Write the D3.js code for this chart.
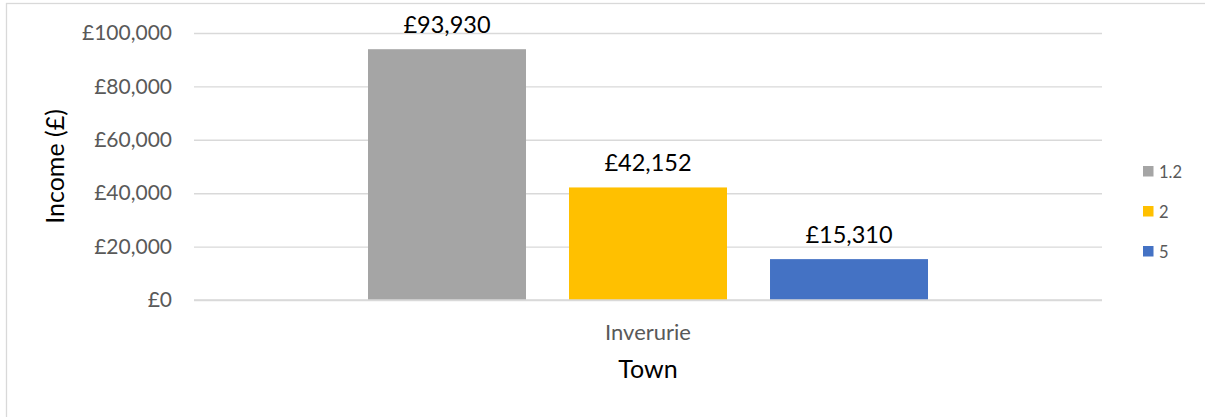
<!DOCTYPE html>
<html>
<head>
<meta charset="utf-8">
<script src="https://cdn.jsdelivr.net/npm/d3@7"></script>
<style>
  body { margin: 0; background: #fff; }
  text { font-family: Lato, "Open Sans", sans-serif; }
</style>
</head>
<body>
<svg id="display"></svg>
<script>
// data
let towns = ['Inverurie']
let seriesNames = ['1.2', '2', '5']
let incomes = [93930, 42152, 15310]
let yTicks = [0, 20000, 40000, 60000, 80000, 100000]
let colours = ['#A5A5A5', '#FFC000', '#4472C4']

let width = 1205
let height = 417
let plotLeft = 194
let plotRight = 1102
let plotTop = 33
let plotBottom = 300

let svg = d3.select('#display')
  .attr('width', width)
  .attr('height', height)

// outer frame (cropped at right/bottom)
svg.append('rect')
  .attr('x', 6.5)
  .attr('y', 3.5)
  .attr('width', width + 10)
  .attr('height', height + 10)
  .attr('fill', 'none')
  .attr('stroke', '#d9d9d9')
  .attr('stroke-width', 1.3)

let money = d => '£' + d3.format(',')(d)

let yScale = d3.scaleLinear()
  .domain([0, 100000])
  .range([plotBottom, plotTop])

let x0 = d3.scaleBand()
  .domain(towns)
  .range([plotLeft, plotRight])
  .paddingInner(0)
  .paddingOuter(0.3107)

let x1 = d3.scaleBand()
  .domain(seriesNames)
  .range([0, x0.bandwidth()])
  .paddingInner(0.214)
  .paddingOuter(0)

let colour = d3.scaleOrdinal()
  .domain(seriesNames)
  .range(colours)

// y axis with gridlines
let yAxis = d3.axisLeft(yScale)
  .tickValues(yTicks)
  .tickFormat(money)
  .tickSize(-(plotRight - plotLeft))
  .tickPadding(22)

let yg = svg.append('g')
  .attr('transform', 'translate(' + plotLeft + ',0)')
  .call(yAxis)
yg.select('.domain').remove()
yg.selectAll('line')
  .attr('stroke', '#d9d9d9')
  .attr('stroke-width', 1.4)
yg.selectAll('text')
  .attr('fill', '#595959')
  .style('font-size', '21px')
  .style('font-family', 'Lato, sans-serif')

// bars
let rows = seriesNames.map((s, i) => ({ town: towns[0], series: s, value: incomes[i] }))

svg.selectAll('rect.bar')
  .data(rows)
  .enter()
  .append('rect')
  .attr('class', 'bar')
  .attr('x', d => x0(d.town) + x1(d.series))
  .attr('y', d => yScale(d.value))
  .attr('width', x1.bandwidth())
  .attr('height', d => yScale(0) - yScale(d.value))
  .attr('fill', d => colour(d.series))

// axis line on top of bars
svg.append('line')
  .attr('x1', plotLeft)
  .attr('x2', plotRight)
  .attr('y1', yScale(0))
  .attr('y2', yScale(0))
  .attr('stroke', '#d9d9d9')
  .attr('stroke-width', 1.6)

// data labels
svg.selectAll('text.lbl')
  .data(rows)
  .enter()
  .append('text')
  .attr('class', 'lbl')
  .attr('x', d => x0(d.town) + x1(d.series) + x1.bandwidth() / 2)
  .attr('y', d => yScale(d.value) - 16.5)
  .attr('text-anchor', 'middle')
  .attr('fill', '#000')
  .style('font-size', '23.5px')
  .text(d => money(d.value))

// x axis
let xAxis = d3.axisBottom(x0).tickSize(0).tickPadding(24)
let xg = svg.append('g')
  .attr('transform', 'translate(0,' + plotBottom + ')')
  .call(xAxis)
xg.select('.domain').remove()
xg.selectAll('text')
  .attr('fill', '#595959')
  .style('font-size', '22px')
  .style('font-family', 'Lato, sans-serif')

// axis titles
svg.append('text')
  .attr('x', (plotLeft + plotRight) / 2)
  .attr('y', 378)
  .attr('text-anchor', 'middle')
  .attr('fill', '#000')
  .style('font-size', '25px')
  .text('Town')

svg.append('text')
  .attr('transform', 'translate(64,' + (plotTop + plotBottom) / 2 + ') rotate(-90)')
  .attr('text-anchor', 'middle')
  .attr('fill', '#000')
  .style('font-size', '25px')
  .text('Income (£)')

// legend
let legend = svg.selectAll('g.leg')
  .data(seriesNames)
  .enter()
  .append('g')
  .attr('class', 'leg')
  .attr('transform', (d, i) => 'translate(1143,' + (166 + i * 40) + ')')

legend.append('rect')
  .attr('width', 10.5)
  .attr('height', 10.5)
  .attr('fill', d => colour(d))

legend.append('text')
  .attr('x', 16)
  .attr('y', 11.5)
  .attr('fill', '#595959')
  .style('font-size', '16.5px')
  .text(d => d)
</script>
</body>
</html>
